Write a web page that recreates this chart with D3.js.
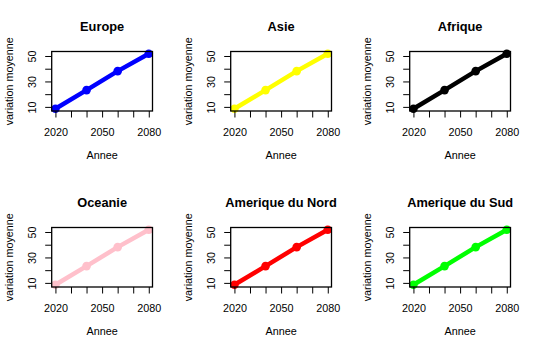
<html>
<head>
<script src="https://d3js.org/d3.v7.min.js"></script>
<style>
  body { margin: 0; background: #fff; }
  text { font-family: "Liberation Sans", Arial, sans-serif; fill: #000; }
  .tick line { stroke: #000; }
</style>
</head>
<body>
<script>
const regions = ['Europe', 'Asie', 'Afrique', 'Oceanie', 'Amerique du Nord', 'Amerique du Sud']
const colors = ['#0000ff', '#ffff00', '#000000', '#ffc0cb', '#ff0000', '#00ff00']
const years = [2020, 2040, 2060, 2080]
const values = [8.5, 23.2, 38.1, 51.8]
const xTicks = [2020, 2030, 2040, 2050, 2060, 2070, 2080]
const xLabels = [2020, 2050, 2080]
const yTicks = [10, 20, 30, 40, 50]
const yLabels = [10, 30, 50]

const W = 537, H = 352
const panelW = W / 3, panelH = H / 2
const margin = {top: 51.5, right: 26.5, bottom: 65, left: 51.7}
const w = panelW - margin.left - margin.right,
      h = panelH - margin.top - margin.bottom

const svg = d3.select('body').append('svg')
  .attr('width', W).attr('height', H)

// R style 4% padding on both scales
const xr = d3.extent(years), yr = d3.extent(values)
const xPad = (xr[1] - xr[0]) * 0.04, yPad = (yr[1] - yr[0]) * 0.04
const x = d3.scaleLinear().domain([xr[0] - xPad, xr[1] + xPad]).range([0, w])
const y = d3.scaleLinear().domain([yr[0] - yPad, yr[1] + yPad]).range([h, 0])

const line = d3.line().x((d, i) => x(years[i])).y(d => y(d))

regions.forEach(function(name, k) {
  const col = k % 3, row = Math.floor(k / 3)
  const g = svg.append('g')
    .attr('transform', 'translate(' + (col * panelW + margin.left) + ',' + (row * panelH + margin.top) + ')')

  g.append('path')
    .datum(values)
    .attr('d', line)
    .attr('fill', 'none')
    .attr('stroke', colors[k])
    .attr('stroke-width', 4.5)

  g.selectAll('circle')
    .data(values)
    .enter().append('circle')
    .attr('cx', (d, i) => x(years[i]))
    .attr('cy', d => y(d))
    .attr('r', 4.3)
    .attr('fill', colors[k])

  g.append('rect')
    .attr('width', w).attr('height', h)
    .attr('fill', 'none').attr('stroke', '#000').attr('stroke-width', 1.3)

  const xAxis = g.append('g')
    .attr('transform', 'translate(0,' + h + ')')
    .call(d3.axisBottom(x).tickValues(xTicks).tickSize(6.5)
      .tickFormat(d => xLabels.includes(d) ? d : ''))
  xAxis.select('.domain').remove()
  xAxis.selectAll('text').attr('y', 24.6).attr('dy', 0)
    .style('font-size', '10.8px').style('font-family', '"Liberation Sans", Arial, sans-serif')

  const yAxis = g.append('g')
    .call(d3.axisLeft(y).tickValues(yTicks).tickSize(6.5)
      .tickFormat(d => yLabels.includes(d) ? d : ''))
  yAxis.select('.domain').remove()
  yAxis.selectAll('text')
    .attr('x', null).attr('dy', 0)
    .attr('text-anchor', 'middle')
    .attr('transform', 'translate(' + (36 - margin.left) + ',0) rotate(-90)')
    .style('font-size', '10.8px').style('font-family', '"Liberation Sans", Arial, sans-serif')

  g.append('text')
    .attr('x', w / 2).attr('y', 30.9 - margin.top)
    .attr('text-anchor', 'middle')
    .style('font-size', '12.8px').style('font-weight', 'bold')
    .text(name)

  g.append('text')
    .attr('x', w / 2).attr('y', 159 - margin.top)
    .attr('text-anchor', 'middle')
    .style('font-size', '10.8px')
    .text('Annee')

  g.append('text')
    .attr('transform', 'translate(' + (12.6 - margin.left) + ',' + (h / 2) + ') rotate(-90)')
    .attr('text-anchor', 'middle')
    .style('font-size', '10.8px')
    .text('variation moyenne')
})
</script>
</body>
</html>
